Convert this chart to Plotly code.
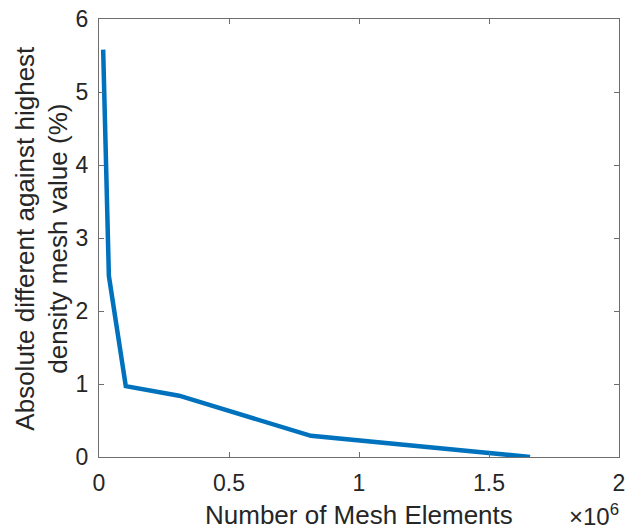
import plotly.graph_objects as go

mesh_elements = [16000, 38000, 103000, 308000, 815000, 1658000]
abs_diff_pct = [5.58, 2.48, 0.97, 0.84, 0.29, 0.0]

x_tickvals = [0, 500000, 1000000, 1500000, 2000000]
x_ticktext = ["0", "0.5", "1", "1.5", "2"]
y_tickvals = [0, 1, 2, 3, 4, 5, 6]

FONT = "Liberation Sans, Arial, Helvetica, sans-serif"
TXT = "#262626"
AX = "#6e6e6e"
W, H = 626, 532
ML, MR, MT, MB = 99, 1, 19, 75
plot_w = W - ML - MR
plot_h = H - MT - MB


def px_x(p):
    return (p - ML) / plot_w


def px_y(p):
    return (H - MB - p) / plot_h


fig = go.Figure()
fig.add_trace(go.Scatter(
    x=mesh_elements, y=abs_diff_pct, mode="lines",
    line=dict(color="#0072BD", width=4.5),
    showlegend=False, hoverinfo="skip"))

fig.update_layout(
    width=W, height=H,
    margin=dict(l=ML, r=MR, t=MT, b=MB),
    paper_bgcolor="white", plot_bgcolor="white",
    font=dict(family=FONT, color=TXT, size=23),
    xaxis=dict(range=[0, 2000000], tickvals=x_tickvals, ticktext=x_ticktext,
               showgrid=False, zeroline=False, showline=True, linecolor=AX,
               linewidth=1, mirror="ticks", ticks="inside", ticklen=5,
               tickcolor=AX, tickfont=dict(size=23, color=TXT),
               ticklabeloverflow="allow", ticklabelstandoff=5),
    yaxis=dict(range=[0, 6], tickvals=y_tickvals,
               showgrid=False, zeroline=False, showline=True, linecolor=AX,
               linewidth=1, mirror="ticks", ticks="inside", ticklen=5,
               tickcolor=AX, tickfont=dict(size=23, color=TXT),
               ticklabeloverflow="allow", ticklabelstandoff=5),
    annotations=[
        dict(text="Number of Mesh Elements", x=0.5, xref="paper",
             y=px_y(515), yref="paper", yanchor="middle", showarrow=False,
             font=dict(size=26, color=TXT)),
        dict(text="Absolute different against highest<br>density mesh value (%)",
             textangle=-90, x=px_x(41), xref="paper", xanchor="center",
             y=px_y(238), yref="paper", yanchor="middle",
             showarrow=False, font=dict(size=26, color=TXT)),
        dict(text="\u00d710<sup>6</sup>", x=px_x(627), xref="paper", xanchor="right",
             y=px_y(515), yref="paper", yanchor="middle", showarrow=False,
             font=dict(size=24, color=TXT)),
    ],
)

fig.write_html("out.html")
